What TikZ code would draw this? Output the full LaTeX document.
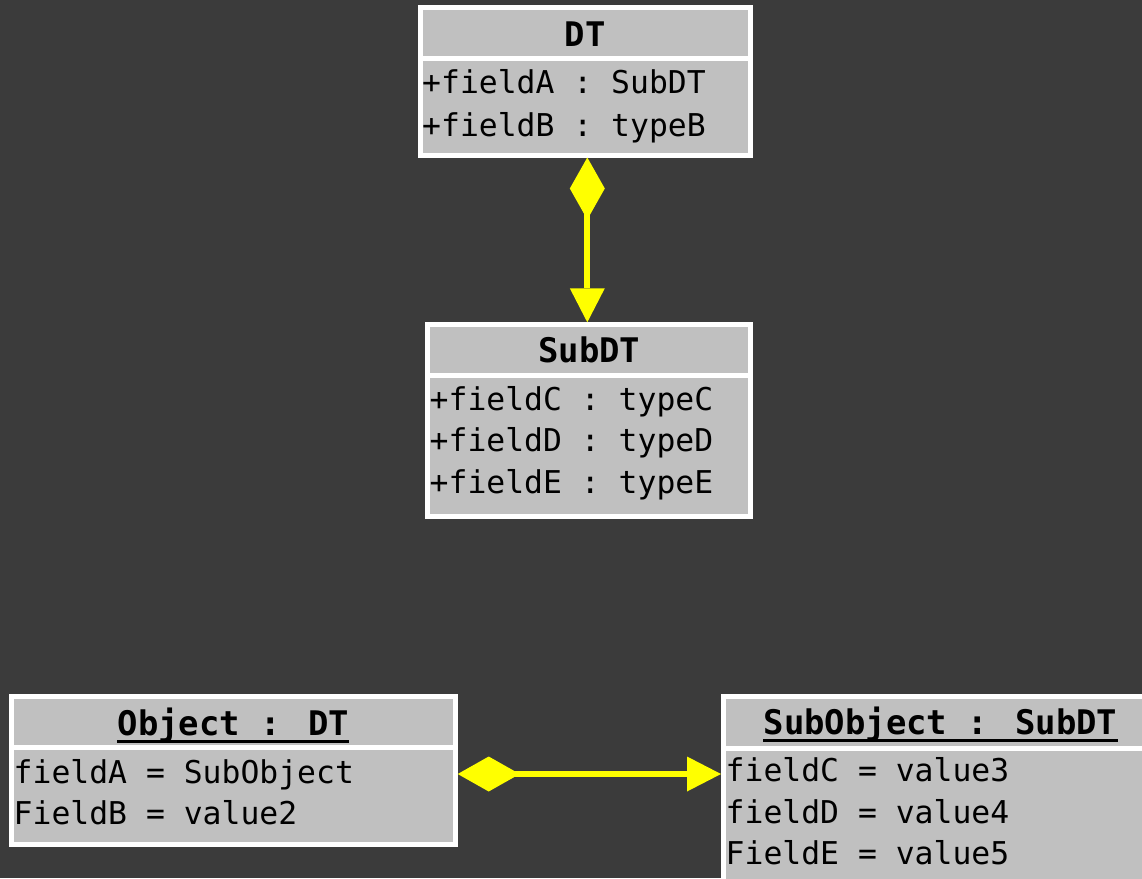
\documentclass[tikz,border=0pt]{standalone}
\usepackage{fontspec}
\newfontfamily\dejamono{DejaVu Sans Mono}
\usetikzlibrary{arrows.meta}
\definecolor{bg}{HTML}{3B3B3B}
\definecolor{boxgray}{HTML}{C0C0C0}
\definecolor{yel}{HTML}{FFFF00}
\tikzset{
  umlbox/.style={rectangle, fill=boxgray, draw=white, line width=5pt, inner sep=0pt},
  sepline/.style={draw=white, line width=5pt, shorten <=2.5pt, shorten >=2.5pt},
  headtxt/.style={inner sep=0pt, anchor=base, font=\fontsize{33.9pt}{40pt}\dejamono\bfseries, text=black},
  bodytxt/.style={inner sep=0pt, anchor=base west, font=\fontsize{31.4pt}{40pt}\dejamono, text=black},
  ulin/.style={draw=black, line width=3pt},
  comp/.style={draw=yel, line width=6pt,
    {Diamond[length=62pt,width=35pt,line width=0pt,fill=yel]}-{Triangle[length=34pt,width=35pt,line width=0pt,fill=yel]}},
}
\begin{document}
\begin{tikzpicture}[x=1pt,y=-1pt]
\useasboundingbox (0,0) rectangle (1142,878);
\fill[bg] (0,0) rectangle (1142,878);
\clip (0,0) rectangle (1142,878);

% DT class
\node[umlbox, minimum width=330.5pt, minimum height=147.5pt] (dt) at (585.25,81.25) {};
\draw[sepline] (dt.west |- 0,58.3) -- (dt.east |- 0,58.3);
\node[headtxt] (dth) at (585.25,46.5) {DT};
\node[bodytxt] (dta) at (422,93.5) {+fieldA : SubDT};
\node[bodytxt] (dtb) at (422,136.5) {+fieldB : typeB};

% SubDT class
\node[umlbox, minimum width=323.3pt, minimum height=192pt] (subdt) at (589.2,420.8) {};
\draw[sepline] (subdt.west |- 0,375.5) -- (subdt.east |- 0,375.5);
\node[headtxt] (subdth) at (589.2,362.5) {SubDT};
\node[bodytxt] (subdtc) at (429.5,410) {+fieldC : typeC};
\node[bodytxt] (subdtd) at (429.5,451.5) {+fieldD : typeD};
\node[bodytxt] (subdte) at (429.5,493) {+fieldE : typeE};

% Object instance
\node[umlbox, minimum width=443.7pt, minimum height=148.3pt] (obj) at (233.35,770.65) {};
\draw[sepline] (obj.west |- 0,747.8) -- (obj.east |- 0,747.8);
\node[headtxt] (objh) at (233.35,735.5) {Object : DT};
\draw[ulin] ([yshift=-6pt]objh.base west) -- ([yshift=-6pt]objh.base east);
\node[bodytxt] (obja) at (13.5,783) {fieldA = SubObject};
\node[bodytxt] (objb) at (13.5,824.5) {FieldB = value2};

% SubObject instance
\node[umlbox, minimum width=434pt, minimum height=193pt] (subobj) at (940.5,793) {};
\draw[sepline] (subobj.west |- 0,748) -- (subobj.east |- 0,748);
\node[headtxt] (subobjh) at (940.5,734.5) {SubObject : SubDT};
\draw[ulin] ([yshift=-6pt]subobjh.base west) -- ([yshift=-6pt]subobjh.base east);
\node[bodytxt] (subobjc) at (725.5,781.5) {fieldC = value3};
\node[bodytxt] (subobjd) at (725.5,823) {fieldD = value4};
\node[bodytxt] (subobje) at (725.5,864.5) {FieldE = value5};

% connectors
\coordinate (c1) at (587.3,0);
\draw[comp] (dt.south -| c1) -- (subdt.north -| c1);
\coordinate (c2) at (0,774);
\draw[comp] (obj.east |- c2) -- (subobj.west |- c2);
\end{tikzpicture}
\end{document}
